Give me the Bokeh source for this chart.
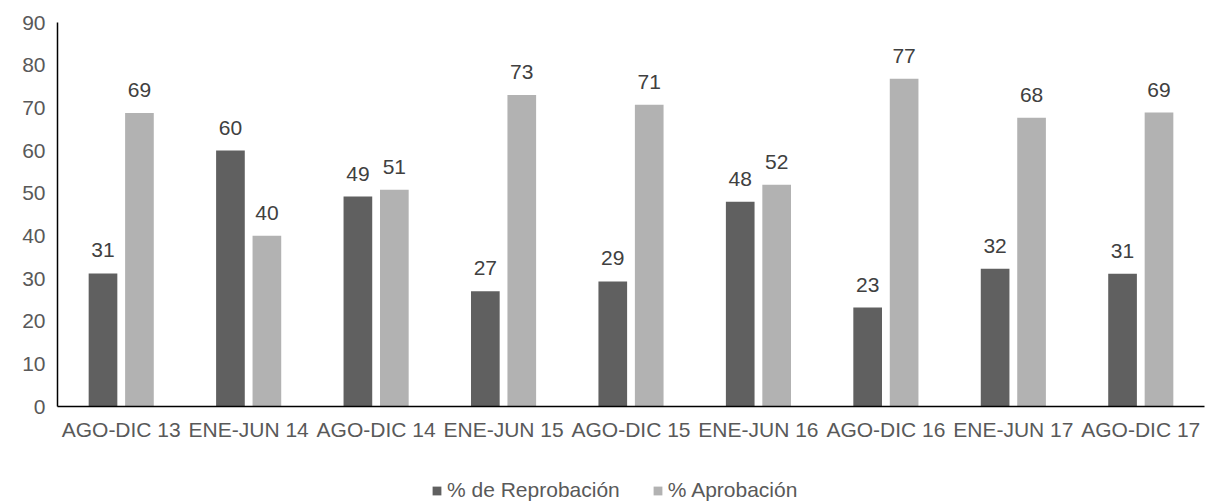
from bokeh.plotting import figure
from bokeh.layouts import column
from bokeh.models import (ColumnDataSource, FactorRange, Range1d, FixedTicker,
                          Legend, LegendItem)
from bokeh.core.properties import value
from bokeh.transform import dodge
from bokeh.embed import file_html
from bokeh.resources import INLINE

# Semesters and pass / fail percentages
semestres = ["AGO-DIC 13", "ENE-JUN 14", "AGO-DIC 14", "ENE-JUN 15", "AGO-DIC 15",
             "ENE-JUN 16", "AGO-DIC 16", "ENE-JUN 17", "AGO-DIC 17"]
reprobacion = [31.2, 60.0, 49.2, 27.0, 29.3, 48.0, 23.2, 32.3, 31.1]
aprobacion = [68.8, 40.0, 50.8, 73.0, 70.7, 52.0, 76.8, 67.7, 68.9]
y_ticks = [0, 10, 20, 30, 40, 50, 60, 70, 80, 90]
series_names = ["% de Reprobación", "% Aprobación"]

FONT = "Liberation Sans"
DARK = "#606060"
LIGHT = "#b2b2b2"
TEXT = "#595959"
LABEL = "#404040"

src = ColumnDataSource(dict(
    sem=semestres,
    rep=reprobacion,
    apr=aprobacion,
    rep_txt=[f"{v:.0f}" for v in reprobacion],
    apr_txt=[f"{v:.0f}" for v in aprobacion],
))

p = figure(width=1205, height=450, output_backend="svg", toolbar_location=None,
           x_range=FactorRange(*semestres, range_padding=0),
           y_range=Range1d(0, 90),
           min_border_left=57, min_border_right=1, min_border_top=22,
           min_border_bottom=44)
p.outline_line_color = None
p.background_fill_color = "white"
p.border_fill_color = "white"
p.xgrid.grid_line_color = None
p.ygrid.grid_line_color = None

off = 0.143
bw = 0.225
p.vbar(x=dodge("sem", -off, range=p.x_range), top="rep", width=bw,
       source=src, fill_color=DARK, line_color=None)
p.vbar(x=dodge("sem", off, range=p.x_range), top="apr", width=bw,
       source=src, fill_color=LIGHT, line_color=None)

# Value labels above each bar
for col, txt, dx in (("rep", "rep_txt", -off), ("apr", "apr_txt", off)):
    p.text(x=dodge("sem", dx, range=p.x_range), y=col, text=txt, source=src,
           text_align="center", text_baseline="bottom", y_offset=-16,
           text_font=value(FONT), text_font_size="21px", text_color=LABEL)

# Axes
p.yaxis.ticker = FixedTicker(ticks=y_ticks)
p.yaxis.axis_line_color = "black"
p.yaxis.axis_line_width = 1.5
p.yaxis.major_tick_line_color = None
p.yaxis.minor_tick_line_color = None
p.yaxis.major_label_standoff = 6
p.yaxis.major_label_text_font = FONT
p.yaxis.major_label_text_font_size = "21px"
p.yaxis.major_label_text_color = TEXT

p.xaxis.axis_line_color = "black"
p.xaxis.axis_line_width = 1.5
p.xaxis.major_tick_line_color = None
p.xaxis.minor_tick_line_color = None
p.xaxis.major_label_standoff = 5
p.xaxis.major_label_text_font = FONT
p.xaxis.major_label_text_font_size = "21px"
p.xaxis.major_label_text_color = TEXT

# Legend strip under the chart; its key renderers use the same series but
# sit outside the strip's visible y-range, so only the legend keys show.
leg = figure(frame_width=1205, frame_height=53, output_backend="svg",
             toolbar_location=None, x_axis_location=None, y_axis_location=None,
             x_range=FactorRange(*semestres, range_padding=0),
             y_range=Range1d(1000, 1001), min_border=0)
leg.outline_line_color = None
leg.grid.visible = False
k1 = leg.vbar(x=dodge("sem", -off, range=leg.x_range), top="rep", width=bw,
              source=src, fill_color=DARK, line_color=None)
k2 = leg.vbar(x=dodge("sem", off, range=leg.x_range), top="apr", width=bw,
              source=src, fill_color=LIGHT, line_color=None)
legend = Legend(items=[LegendItem(label=series_names[0], renderers=[k1]),
                       LegendItem(label=series_names[1], renderers=[k2])],
                orientation="horizontal", location=(431, 1),
                label_text_font=FONT, label_text_font_size="21px",
                label_text_color=TEXT, glyph_width=11, glyph_height=11,
                label_standoff=5, spacing=32, padding=4, margin=0,
                border_line_color=None, background_fill_alpha=0)
leg.add_layout(legend, "center")

open("out.html", "w").write(file_html(column(p, leg, spacing=0), INLINE))
